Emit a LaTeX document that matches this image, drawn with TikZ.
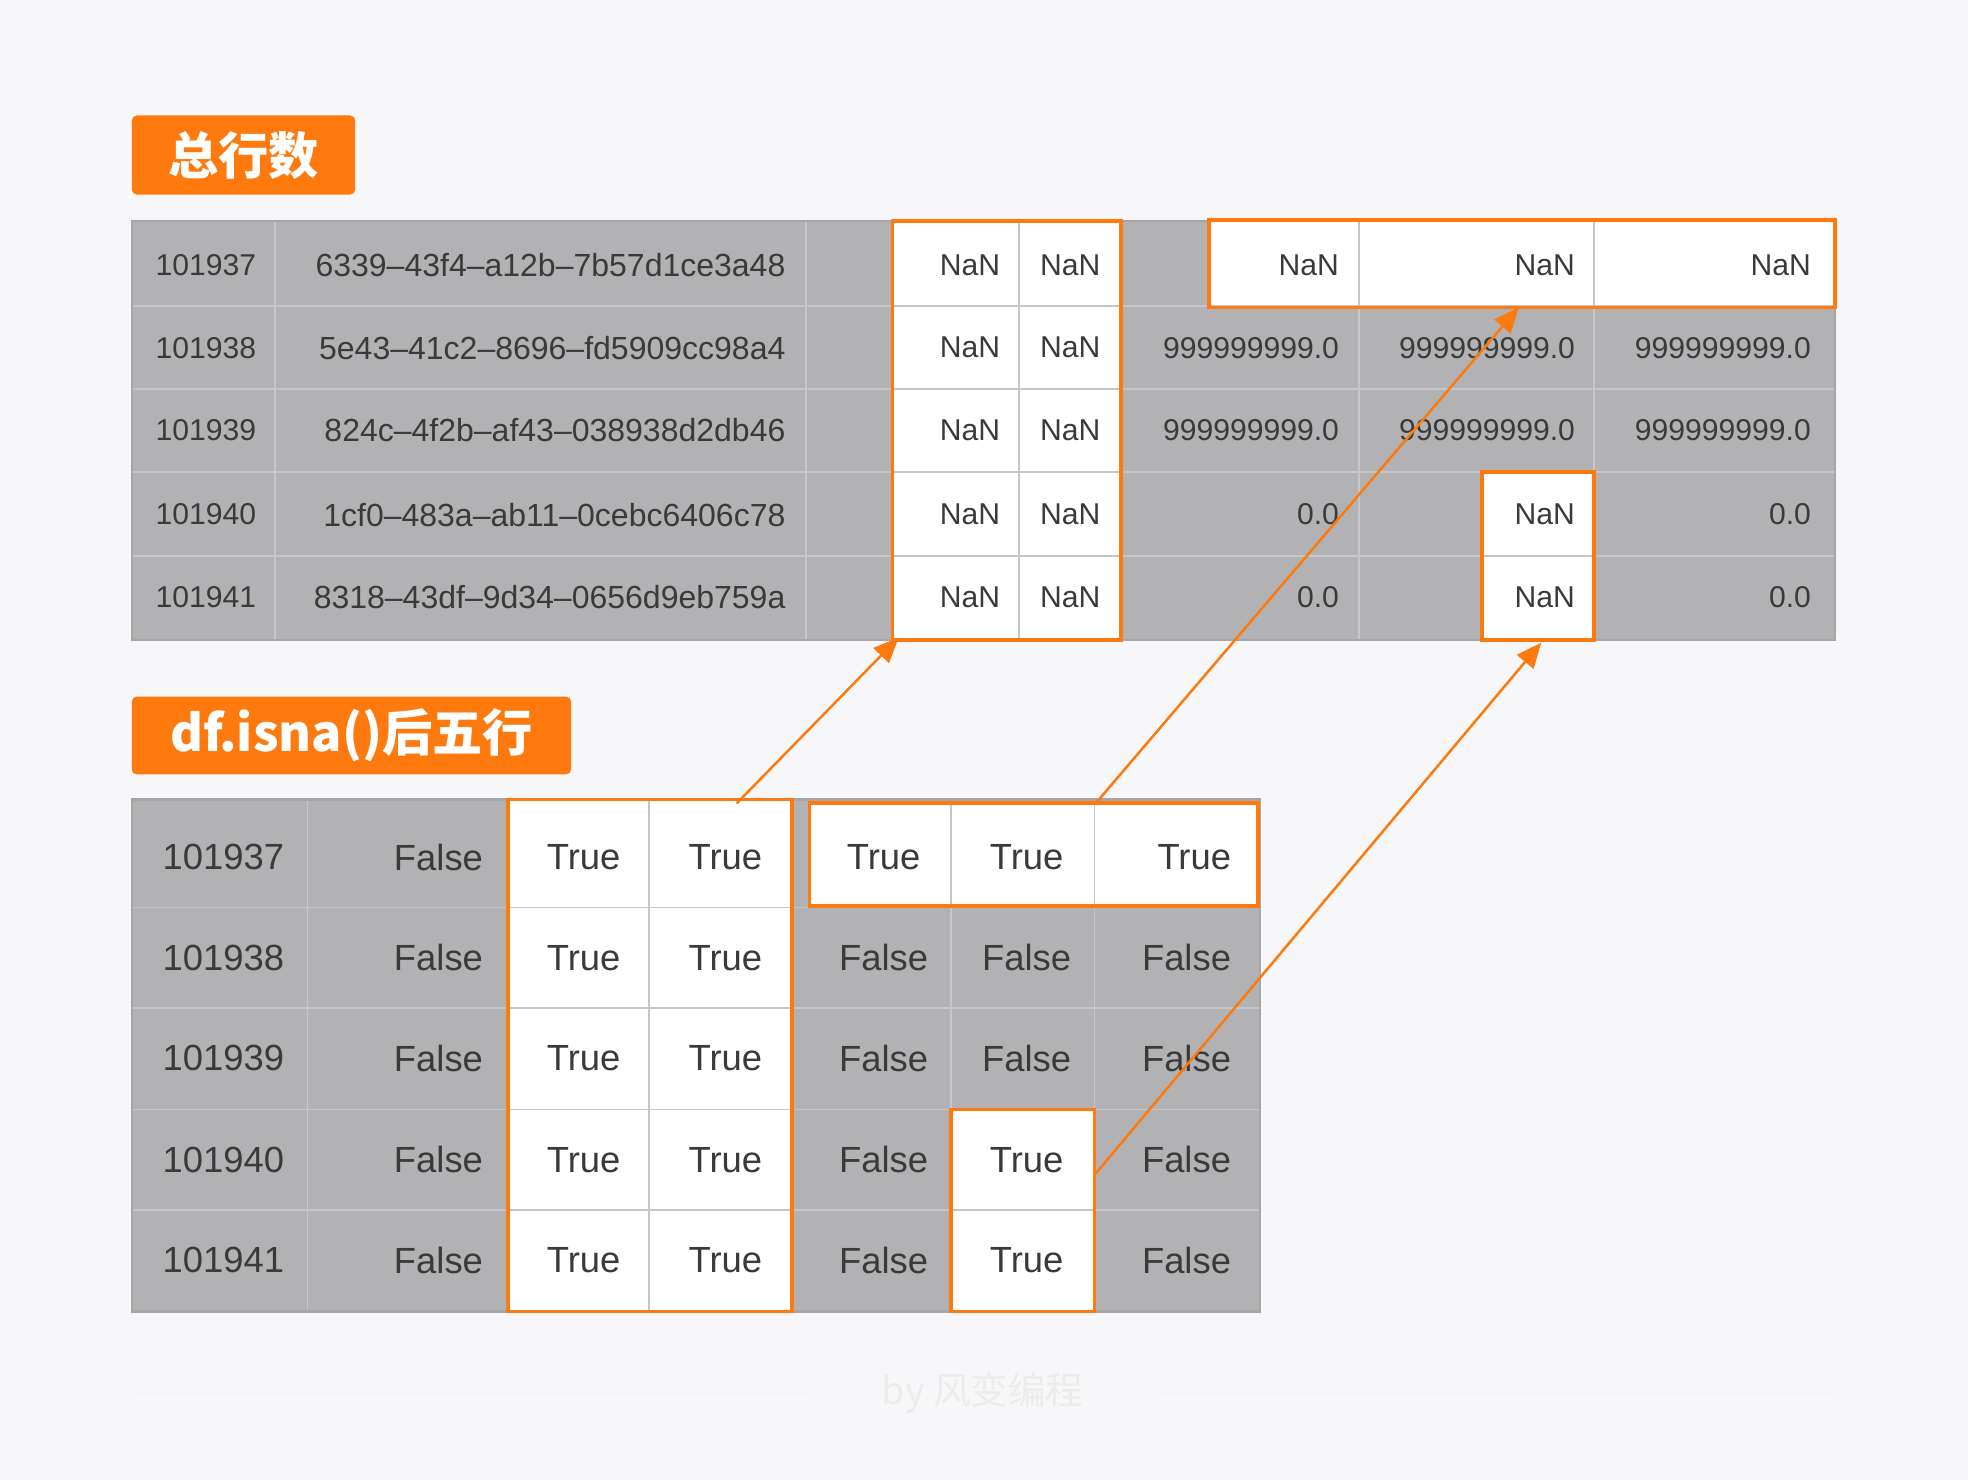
\documentclass[tikz,border=0pt]{standalone}
\usepackage{fontspec}
\setmainfont{Liberation Sans}
\newfontfamily\cjk{Noto Sans CJK SC}
\usetikzlibrary{arrows.meta}
\definecolor{bg}{HTML}{F7F7FA}
\definecolor{org}{HTML}{FF7A0E}
\definecolor{cellg}{HTML}{B2B2B4}
\definecolor{gridc}{HTML}{C6C6C8}
\definecolor{txt}{HTML}{3A3A3A}
\begin{document}
\begin{tikzpicture}[x=1pt,y=-1pt,
  tag/.style={fill=org,rounded corners=4pt,text=white,font=\cjk\bfseries},
  hl/.style={draw=org,line width=3pt},
  t/.style={text=txt,font=\fontsize{24}{26}\selectfont,inner sep=0pt},
  b/.style={text=txt,font=\fontsize{29}{31}\selectfont,inner sep=0pt},
  arr/.style={draw=org,line width=2pt,-{Triangle[length=20pt,width=17pt]}}]
\fill[bg] (0,0) rectangle (1568,1179);
\useasboundingbox (0,0) rectangle (1568,1179);
% labels
\node[tag,minimum width=178pt,minimum height=63pt,font=\cjk\bfseries\fontsize{40}{42}\selectfont] (l1) at (194,123.5) {总行数};
\node[tag,minimum width=350pt,minimum height=62pt,font=\cjk\bfseries\fontsize{40}{42}\selectfont] (l2) at (280,586) {df.isna()后五行};
% top table
\fill[cellg] (105,176) rectangle (1462,510);
\fill[white] (711,176) rectangle (893,510);
\fill[white] (963,176) rectangle (1462,245);
\fill[white] (1181,376) rectangle (1270,510);
\foreach \y in {244,310,376,443} \draw[gridc,line width=1.5pt] (105,\y) -- (1462,\y);
\foreach \x in {219,642,711,812,893,1083,1270} \draw[gridc,line width=1.5pt] (\x,176) -- (\x,510);
\draw[gray!70,line width=2pt] (105,176) rectangle (1462,510);
\foreach \r/\y/\id/\h/\a/\b/\c in {1/211/101937/6339–43f4–a12b–7b57d1ce3a48/NaN/NaN/NaN,
 2/277/101938/5e43–41c2–8696–fd5909cc98a4/999999999.0/999999999.0/999999999.0,
 3/343/101939/824c–4f2b–af43–038938d2db46/999999999.0/999999999.0/999999999.0,
 4/410/101940/1cf0–483a–ab11–0cebc6406c78/0.0/NaN/0.0,
 5/476/101941/8318–43df–9d34–0656d9eb759a/0.0/NaN/0.0}{
 \node[t] (ti\r) at (164,\y) {\id};
 \node[t,anchor=east,font=\fontsize{25.5}{27}\selectfont] (th\r) at (626,\y) {\h};
 \node[t,anchor=east] (tn\r) at (797,\y) {NaN};
 \node[t,anchor=east] (tm\r) at (877,\y) {NaN};
 \node[t,anchor=east] (ta\r) at (1067,\y) {\a};
 \node[t,anchor=east] (tb\r) at (1255,\y) {\b};
 \node[t,anchor=east] (tc\r) at (1443,\y) {\c};
}
\draw[hl] (711,176) rectangle (893,510);
\draw[hl] (963,175) rectangle (1462,245);
\draw[hl] (1181,376) rectangle (1270,510);
% bottom table
\fill[cellg] (105,637) rectangle (1004,1045);
\fill[white] (405,637) rectangle (631,1045);
\fill[white] (645,640) rectangle (1002,722);
\fill[white] (758,884) rectangle (872,1045);
\foreach \y in {723,803,884,964} \draw[gridc,line width=1.5pt] (105,\y) -- (1004,\y);
\foreach \x in {245,405,517,631,758,872} \draw[gridc,line width=1.5pt] (\x,637) -- (\x,1045);
\draw[gray!70,line width=2pt] (105,637) rectangle (1004,1045);
\foreach \r/\y/\id/\a/\b/\c in {1/683/101937/True/True/True,2/763/101938/False/False/False,
 3/843/101939/False/False/False,4/924/101940/False/True/False,5/1004/101941/False/True/False}{
 \node[b] (bi\r) at (178,\y) {\id};
 \node[b,anchor=east] (bf\r) at (385,\y) {False};
 \node[b] (bt\r) at (465,\y) {True};
 \node[b] (bu\r) at (578,\y) {True};
 \node[b] (ba\r) at (704,\y) {\a};
 \node[b] (bb\r) at (818,\y) {\b};
 \node[b,anchor=east] (bc\r) at (981,\y) {\c};
}
\draw[hl] (405,637) rectangle (631,1045);
\draw[hl] (645,640) rectangle (1002,722);
\draw[hl] (758,884) rectangle (872,1045);
% arrows
\coordinate (s1) at (587,640); \coordinate (e1) at (716,508);
\coordinate (s2) at (873,640); \coordinate (e2) at (1210,245);
\coordinate (s3) at (873,935); \coordinate (e3) at (1228,512);
\draw[arr] (s1) -- (e1);
\draw[arr] (s2) -- (e2);
\draw[arr] (s3) -- (e3);
% footer
\draw[gray!12,line width=1pt] (105,1110) -- (645,1110);
\draw[gray!12,line width=1pt] (925,1110) -- (1462,1110);
\node[text=gray!15,font=\cjk\fontsize{30}{32}\selectfont] (ft) at (783,1110) {by 风变编程};
\end{tikzpicture}
\end{document}
